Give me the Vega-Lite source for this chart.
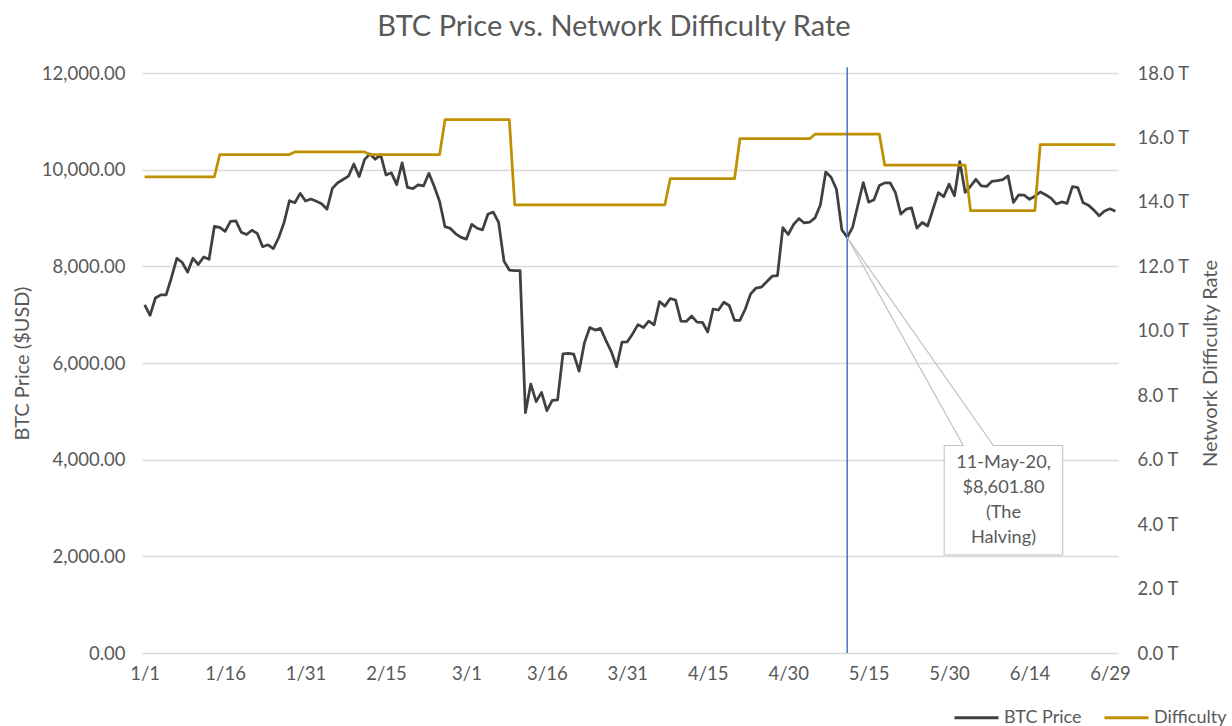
{
  "$schema": "https://vega.github.io/schema/vega-lite/v6.json",
  "width": 976,
  "height": 580,
  "autosize": {"type": "none"},
  "padding": {"left": 142, "top": 73, "right": 114, "bottom": 73},
  "background": "white",
  "config": {"view": {"stroke": null}, "font": "Lato"},
  "title": {"text": "BTC Price vs. Network Difficulty Rate", "font": "Lato", "fontSize": 29, "fontWeight": "normal", "color": "#595959", "anchor": "middle", "dx": -16, "offset": 22},
  "data": {
    "format": {"parse": {"date": "utc:'%Y-%m-%d'"}},
    "values": [
      {"date": "2020-01-01", "price": 7200.17, "difficulty": 14.78},
      {"date": "2020-01-02", "price": 6985.47, "difficulty": 14.78},
      {"date": "2020-01-03", "price": 7344.88, "difficulty": 14.78},
      {"date": "2020-01-04", "price": 7410.66, "difficulty": 14.78},
      {"date": "2020-01-05", "price": 7411.32, "difficulty": 14.78},
      {"date": "2020-01-06", "price": 7769.22, "difficulty": 14.78},
      {"date": "2020-01-07", "price": 8163.69, "difficulty": 14.78},
      {"date": "2020-01-08", "price": 8079.86, "difficulty": 14.78},
      {"date": "2020-01-09", "price": 7879.07, "difficulty": 14.78},
      {"date": "2020-01-10", "price": 8166.55, "difficulty": 14.78},
      {"date": "2020-01-11", "price": 8037.54, "difficulty": 14.78},
      {"date": "2020-01-12", "price": 8192.49, "difficulty": 14.78},
      {"date": "2020-01-13", "price": 8144.19, "difficulty": 14.78},
      {"date": "2020-01-14", "price": 8827.76, "difficulty": 14.78},
      {"date": "2020-01-15", "price": 8807.01, "difficulty": 15.47},
      {"date": "2020-01-16", "price": 8723.79, "difficulty": 15.47},
      {"date": "2020-01-17", "price": 8929.04, "difficulty": 15.47},
      {"date": "2020-01-18", "price": 8942.81, "difficulty": 15.47},
      {"date": "2020-01-19", "price": 8706.25, "difficulty": 15.47},
      {"date": "2020-01-20", "price": 8657.64, "difficulty": 15.47},
      {"date": "2020-01-21", "price": 8745.89, "difficulty": 15.47},
      {"date": "2020-01-22", "price": 8680.88, "difficulty": 15.47},
      {"date": "2020-01-23", "price": 8406.52, "difficulty": 15.47},
      {"date": "2020-01-24", "price": 8445.43, "difficulty": 15.47},
      {"date": "2020-01-25", "price": 8367.85, "difficulty": 15.47},
      {"date": "2020-01-26", "price": 8596.83, "difficulty": 15.47},
      {"date": "2020-01-27", "price": 8909.82, "difficulty": 15.47},
      {"date": "2020-01-28", "price": 9358.59, "difficulty": 15.47},
      {"date": "2020-01-29", "price": 9316.63, "difficulty": 15.55},
      {"date": "2020-01-30", "price": 9508.99, "difficulty": 15.55},
      {"date": "2020-01-31", "price": 9350.53, "difficulty": 15.55},
      {"date": "2020-02-01", "price": 9392.88, "difficulty": 15.55},
      {"date": "2020-02-02", "price": 9344.37, "difficulty": 15.55},
      {"date": "2020-02-03", "price": 9293.52, "difficulty": 15.55},
      {"date": "2020-02-04", "price": 9180.96, "difficulty": 15.55},
      {"date": "2020-02-05", "price": 9613.42, "difficulty": 15.55},
      {"date": "2020-02-06", "price": 9729.80, "difficulty": 15.55},
      {"date": "2020-02-07", "price": 9795.94, "difficulty": 15.55},
      {"date": "2020-02-08", "price": 9865.12, "difficulty": 15.55},
      {"date": "2020-02-09", "price": 10116.67, "difficulty": 15.55},
      {"date": "2020-02-10", "price": 9856.61, "difficulty": 15.55},
      {"date": "2020-02-11", "price": 10208.24, "difficulty": 15.55},
      {"date": "2020-02-12", "price": 10326.05, "difficulty": 15.47},
      {"date": "2020-02-13", "price": 10214.38, "difficulty": 15.47},
      {"date": "2020-02-14", "price": 10312.12, "difficulty": 15.47},
      {"date": "2020-02-15", "price": 9889.42, "difficulty": 15.47},
      {"date": "2020-02-16", "price": 9934.43, "difficulty": 15.47},
      {"date": "2020-02-17", "price": 9690.14, "difficulty": 15.47},
      {"date": "2020-02-18", "price": 10141.99, "difficulty": 15.47},
      {"date": "2020-02-19", "price": 9633.39, "difficulty": 15.47},
      {"date": "2020-02-20", "price": 9608.48, "difficulty": 15.47},
      {"date": "2020-02-21", "price": 9686.44, "difficulty": 15.47},
      {"date": "2020-02-22", "price": 9663.18, "difficulty": 15.47},
      {"date": "2020-02-23", "price": 9924.52, "difficulty": 15.47},
      {"date": "2020-02-24", "price": 9650.17, "difficulty": 15.47},
      {"date": "2020-02-25", "price": 9341.71, "difficulty": 15.47},
      {"date": "2020-02-26", "price": 8820.52, "difficulty": 16.55},
      {"date": "2020-02-27", "price": 8784.49, "difficulty": 16.55},
      {"date": "2020-02-28", "price": 8672.46, "difficulty": 16.55},
      {"date": "2020-02-29", "price": 8599.51, "difficulty": 16.55},
      {"date": "2020-03-01", "price": 8562.45, "difficulty": 16.55},
      {"date": "2020-03-02", "price": 8869.67, "difficulty": 16.55},
      {"date": "2020-03-03", "price": 8787.79, "difficulty": 16.55},
      {"date": "2020-03-04", "price": 8755.25, "difficulty": 16.55},
      {"date": "2020-03-05", "price": 9078.76, "difficulty": 16.55},
      {"date": "2020-03-06", "price": 9122.55, "difficulty": 16.55},
      {"date": "2020-03-07", "price": 8909.95, "difficulty": 16.55},
      {"date": "2020-03-08", "price": 8108.12, "difficulty": 16.55},
      {"date": "2020-03-09", "price": 7923.64, "difficulty": 16.55},
      {"date": "2020-03-10", "price": 7909.73, "difficulty": 13.91},
      {"date": "2020-03-11", "price": 7911.43, "difficulty": 13.91},
      {"date": "2020-03-12", "price": 4970.79, "difficulty": 13.91},
      {"date": "2020-03-13", "price": 5563.71, "difficulty": 13.91},
      {"date": "2020-03-14", "price": 5200.37, "difficulty": 13.91},
      {"date": "2020-03-15", "price": 5392.31, "difficulty": 13.91},
      {"date": "2020-03-16", "price": 5014.48, "difficulty": 13.91},
      {"date": "2020-03-17", "price": 5225.63, "difficulty": 13.91},
      {"date": "2020-03-18", "price": 5238.44, "difficulty": 13.91},
      {"date": "2020-03-19", "price": 6191.19, "difficulty": 13.91},
      {"date": "2020-03-20", "price": 6198.78, "difficulty": 13.91},
      {"date": "2020-03-21", "price": 6185.07, "difficulty": 13.91},
      {"date": "2020-03-22", "price": 5830.25, "difficulty": 13.91},
      {"date": "2020-03-23", "price": 6416.31, "difficulty": 13.91},
      {"date": "2020-03-24", "price": 6734.80, "difficulty": 13.91},
      {"date": "2020-03-25", "price": 6681.06, "difficulty": 13.91},
      {"date": "2020-03-26", "price": 6716.44, "difficulty": 13.91},
      {"date": "2020-03-27", "price": 6469.80, "difficulty": 13.91},
      {"date": "2020-03-28", "price": 6242.19, "difficulty": 13.91},
      {"date": "2020-03-29", "price": 5922.04, "difficulty": 13.91},
      {"date": "2020-03-30", "price": 6429.84, "difficulty": 13.91},
      {"date": "2020-03-31", "price": 6438.64, "difficulty": 13.91},
      {"date": "2020-04-01", "price": 6606.78, "difficulty": 13.91},
      {"date": "2020-04-02", "price": 6793.62, "difficulty": 13.91},
      {"date": "2020-04-03", "price": 6733.39, "difficulty": 13.91},
      {"date": "2020-04-04", "price": 6867.53, "difficulty": 13.91},
      {"date": "2020-04-05", "price": 6791.13, "difficulty": 13.91},
      {"date": "2020-04-06", "price": 7271.78, "difficulty": 13.91},
      {"date": "2020-04-07", "price": 7176.41, "difficulty": 13.91},
      {"date": "2020-04-08", "price": 7334.10, "difficulty": 14.72},
      {"date": "2020-04-09", "price": 7302.09, "difficulty": 14.72},
      {"date": "2020-04-10", "price": 6865.49, "difficulty": 14.72},
      {"date": "2020-04-11", "price": 6859.08, "difficulty": 14.72},
      {"date": "2020-04-12", "price": 6971.09, "difficulty": 14.72},
      {"date": "2020-04-13", "price": 6845.04, "difficulty": 14.72},
      {"date": "2020-04-14", "price": 6842.43, "difficulty": 14.72},
      {"date": "2020-04-15", "price": 6642.11, "difficulty": 14.72},
      {"date": "2020-04-16", "price": 7116.80, "difficulty": 14.72},
      {"date": "2020-04-17", "price": 7096.18, "difficulty": 14.72},
      {"date": "2020-04-18", "price": 7257.66, "difficulty": 14.72},
      {"date": "2020-04-19", "price": 7189.42, "difficulty": 14.72},
      {"date": "2020-04-20", "price": 6881.96, "difficulty": 14.72},
      {"date": "2020-04-21", "price": 6880.32, "difficulty": 15.96},
      {"date": "2020-04-22", "price": 7117.21, "difficulty": 15.96},
      {"date": "2020-04-23", "price": 7429.72, "difficulty": 15.96},
      {"date": "2020-04-24", "price": 7550.90, "difficulty": 15.96},
      {"date": "2020-04-25", "price": 7569.94, "difficulty": 15.96},
      {"date": "2020-04-26", "price": 7679.87, "difficulty": 15.96},
      {"date": "2020-04-27", "price": 7795.60, "difficulty": 15.96},
      {"date": "2020-04-28", "price": 7807.06, "difficulty": 15.96},
      {"date": "2020-04-29", "price": 8801.04, "difficulty": 15.96},
      {"date": "2020-04-30", "price": 8658.55, "difficulty": 15.96},
      {"date": "2020-05-01", "price": 8864.77, "difficulty": 15.96},
      {"date": "2020-05-02", "price": 8988.60, "difficulty": 15.96},
      {"date": "2020-05-03", "price": 8897.47, "difficulty": 15.96},
      {"date": "2020-05-04", "price": 8912.65, "difficulty": 15.96},
      {"date": "2020-05-05", "price": 9003.07, "difficulty": 16.10},
      {"date": "2020-05-06", "price": 9268.76, "difficulty": 16.10},
      {"date": "2020-05-07", "price": 9951.52, "difficulty": 16.10},
      {"date": "2020-05-08", "price": 9842.67, "difficulty": 16.10},
      {"date": "2020-05-09", "price": 9593.90, "difficulty": 16.10},
      {"date": "2020-05-10", "price": 8756.43, "difficulty": 16.10},
      {"date": "2020-05-11", "price": 8601.80, "difficulty": 16.10},
      {"date": "2020-05-12", "price": 8804.48, "difficulty": 16.10},
      {"date": "2020-05-13", "price": 9269.99, "difficulty": 16.10},
      {"date": "2020-05-14", "price": 9733.72, "difficulty": 16.10},
      {"date": "2020-05-15", "price": 9328.20, "difficulty": 16.10},
      {"date": "2020-05-16", "price": 9377.01, "difficulty": 16.10},
      {"date": "2020-05-17", "price": 9670.74, "difficulty": 16.10},
      {"date": "2020-05-18", "price": 9726.58, "difficulty": 15.14},
      {"date": "2020-05-19", "price": 9729.04, "difficulty": 15.14},
      {"date": "2020-05-20", "price": 9522.98, "difficulty": 15.14},
      {"date": "2020-05-21", "price": 9081.76, "difficulty": 15.14},
      {"date": "2020-05-22", "price": 9182.58, "difficulty": 15.14},
      {"date": "2020-05-23", "price": 9209.29, "difficulty": 15.14},
      {"date": "2020-05-24", "price": 8790.37, "difficulty": 15.14},
      {"date": "2020-05-25", "price": 8906.93, "difficulty": 15.14},
      {"date": "2020-05-26", "price": 8835.05, "difficulty": 15.14},
      {"date": "2020-05-27", "price": 9181.02, "difficulty": 15.14},
      {"date": "2020-05-28", "price": 9525.75, "difficulty": 15.14},
      {"date": "2020-05-29", "price": 9439.12, "difficulty": 15.14},
      {"date": "2020-05-30", "price": 9700.41, "difficulty": 15.14},
      {"date": "2020-05-31", "price": 9461.06, "difficulty": 15.14},
      {"date": "2020-06-01", "price": 10167.27, "difficulty": 15.14},
      {"date": "2020-06-02", "price": 9529.80, "difficulty": 15.14},
      {"date": "2020-06-03", "price": 9656.72, "difficulty": 13.73},
      {"date": "2020-06-04", "price": 9800.64, "difficulty": 13.73},
      {"date": "2020-06-05", "price": 9665.53, "difficulty": 13.73},
      {"date": "2020-06-06", "price": 9653.68, "difficulty": 13.73},
      {"date": "2020-06-07", "price": 9758.85, "difficulty": 13.73},
      {"date": "2020-06-08", "price": 9771.49, "difficulty": 13.73},
      {"date": "2020-06-09", "price": 9795.70, "difficulty": 13.73},
      {"date": "2020-06-10", "price": 9870.09, "difficulty": 13.73},
      {"date": "2020-06-11", "price": 9321.78, "difficulty": 13.73},
      {"date": "2020-06-12", "price": 9480.84, "difficulty": 13.73},
      {"date": "2020-06-13", "price": 9475.28, "difficulty": 13.73},
      {"date": "2020-06-14", "price": 9386.79, "difficulty": 13.73},
      {"date": "2020-06-15", "price": 9450.70, "difficulty": 13.73},
      {"date": "2020-06-16", "price": 9538.02, "difficulty": 15.78},
      {"date": "2020-06-17", "price": 9480.25, "difficulty": 15.78},
      {"date": "2020-06-18", "price": 9411.84, "difficulty": 15.78},
      {"date": "2020-06-19", "price": 9288.02, "difficulty": 15.78},
      {"date": "2020-06-20", "price": 9332.34, "difficulty": 15.78},
      {"date": "2020-06-21", "price": 9303.63, "difficulty": 15.78},
      {"date": "2020-06-22", "price": 9648.72, "difficulty": 15.78},
      {"date": "2020-06-23", "price": 9629.66, "difficulty": 15.78},
      {"date": "2020-06-24", "price": 9313.61, "difficulty": 15.78},
      {"date": "2020-06-25", "price": 9264.81, "difficulty": 15.78},
      {"date": "2020-06-26", "price": 9162.92, "difficulty": 15.78},
      {"date": "2020-06-27", "price": 9045.39, "difficulty": 15.78},
      {"date": "2020-06-28", "price": 9143.58, "difficulty": 15.78},
      {"date": "2020-06-29", "price": 9190.85, "difficulty": 15.78},
      {"date": "2020-06-30", "price": 9137.99, "difficulty": 15.78}
    ]
  },
  "layer": [
    {
      "mark": {"type": "line", "strokeWidth": 2.75, "strokeJoin": "round"},
      "encoding": {
        "x": {
          "field": "date", "type": "temporal",
          "scale": {"type": "utc", "domain": [{"year": 2019, "month": 12, "date": 31, "hours": 12, "utc": true}, {"year": 2020, "month": 6, "date": 30, "hours": 12, "utc": true}]},
          "axis": {
            "title": null,
            "values": [
              {"year": 2020, "month": 1, "date": 1, "utc": true},
              {"year": 2020, "month": 1, "date": 16, "utc": true},
              {"year": 2020, "month": 1, "date": 31, "utc": true},
              {"year": 2020, "month": 2, "date": 15, "utc": true},
              {"year": 2020, "month": 3, "date": 1, "utc": true},
              {"year": 2020, "month": 3, "date": 16, "utc": true},
              {"year": 2020, "month": 3, "date": 31, "utc": true},
              {"year": 2020, "month": 4, "date": 15, "utc": true},
              {"year": 2020, "month": 4, "date": 30, "utc": true},
              {"year": 2020, "month": 5, "date": 15, "utc": true},
              {"year": 2020, "month": 5, "date": 30, "utc": true},
              {"year": 2020, "month": 6, "date": 14, "utc": true},
              {"year": 2020, "month": 6, "date": 29, "utc": true}
            ],
            "labelExpr": "utcFormat(datum.value, '%-m/%-d')",
            "grid": false, "ticks": false, "domain": false,
            "labelPadding": 11, "labelFont": "Lato", "labelFontSize": 18.5, "labelColor": "#595959",
            "labelFlush": false, "labelOverlap": false
          }
        },
        "y": {
          "field": "price", "type": "quantitative",
          "scale": {"domain": [0, 12000], "nice": false},
          "axis": {
            "title": "BTC Price ($USD)",
            "values": [0, 2000, 4000, 6000, 8000, 10000, 12000],
            "format": ",.2f",
            "grid": true, "gridColor": "#D9D9D9", "gridWidth": 1.3,
            "ticks": false, "domain": false,
            "labelPadding": 17, "labelFont": "Lato", "labelFontSize": 18.5, "labelColor": "#595959",
            "titleFont": "Lato", "titleFontSize": 20, "titleFontWeight": "normal", "titleColor": "#595959",
            "titleX": -119.5, "titleY": 290, "titleAngle": -90, "titleAlign": "center", "titleBaseline": "middle"
          }
        },
        "color": {
          "datum": "BTC Price", "type": "nominal",
          "scale": {"domain": ["BTC Price", "Difficulty"], "range": ["#404040", "#BF9000"]},
          "legend": {
            "title": null, "orient": "none", "legendX": 811, "legendY": 621, "direction": "horizontal",
            "symbolType": "stroke", "symbolSize": 1936, "symbolStrokeWidth": 3,
            "labelFont": "Lato", "labelFontSize": 18, "labelColor": "#595959", "labelOffset": 4, "columnPadding": 16
          }
        }
      }
    },
    {
      "mark": {"type": "line", "strokeWidth": 2.75, "strokeJoin": "round"},
      "encoding": {
        "x": {"field": "date", "type": "temporal"},
        "y": {
          "field": "difficulty", "type": "quantitative",
          "scale": {"domain": [0, 18], "nice": false},
          "axis": {
            "orient": "right",
            "title": "Network Difficulty Rate",
            "values": [0, 2, 4, 6, 8, 10, 12, 14, 16, 18],
            "labelExpr": "format(datum.value, '.1f') + ' T'",
            "grid": false, "ticks": false, "domain": false,
            "labelPadding": 19, "labelFont": "Lato", "labelFontSize": 18.5, "labelColor": "#595959",
            "titleFont": "Lato", "titleFontSize": 20, "titleFontWeight": "normal", "titleColor": "#595959",
            "titleX": 92, "titleY": 290, "titleAngle": -90, "titleAlign": "center", "titleBaseline": "middle"
          }
        },
        "color": {"datum": "Difficulty", "type": "nominal"}
      }
    },
    {
      "data": {"values": [{}]},
      "mark": {"type": "rule", "color": "#4472C4", "strokeWidth": 1.5},
      "encoding": {
        "x": {"datum": {"year": 2020, "month": 5, "date": 11, "utc": true}, "type": "temporal"},
        "y": {"datum": 0, "type": "quantitative", "scale": {"domain": [0, 12000], "nice": false}, "axis": null},
        "y2": {"datum": 12120}
      }
    },
    {
      "data": {"values": [{}]},
      "mark": {"type": "rect", "fill": "white", "stroke": "#BFBFBF", "strokeWidth": 1},
      "encoding": {
        "x": {"datum": {"year": 2020, "month": 5, "date": 29, "hours": 2, "utc": true}, "type": "temporal"},
        "x2": {"datum": {"year": 2020, "month": 6, "date": 20, "hours": 4, "minutes": 30, "utc": true}},
        "y": {"datum": 4293, "type": "quantitative", "scale": {"domain": [0, 12000], "nice": false}, "axis": null},
        "y2": {"datum": 2028}
      }
    },
    {
      "data": {"values": [{}]},
      "mark": {"type": "rule", "color": "white", "strokeWidth": 2.5},
      "encoding": {
        "x": {"datum": {"year": 2020, "month": 6, "date": 1, "hours": 15, "minutes": 36, "utc": true}, "type": "temporal"},
        "x2": {"datum": {"year": 2020, "month": 6, "date": 7, "hours": 6, "utc": true}},
        "y": {"datum": 4293, "type": "quantitative", "scale": {"domain": [0, 12000], "nice": false}, "axis": null}
      }
    },
    {
      "data": {"values": [{}]},
      "mark": {"type": "rule", "color": "#BFBFBF", "strokeWidth": 1.2},
      "encoding": {
        "x": {"datum": {"year": 2020, "month": 5, "date": 11, "utc": true}, "type": "temporal"},
        "x2": {"datum": {"year": 2020, "month": 6, "date": 1, "hours": 15, "minutes": 36, "utc": true}},
        "y": {"datum": 8601.8, "type": "quantitative", "scale": {"domain": [0, 12000], "nice": false}, "axis": null},
        "y2": {"datum": 4293}
      }
    },
    {
      "data": {"values": [{}]},
      "mark": {"type": "rule", "color": "#BFBFBF", "strokeWidth": 1.2},
      "encoding": {
        "x": {"datum": {"year": 2020, "month": 5, "date": 11, "utc": true}, "type": "temporal"},
        "x2": {"datum": {"year": 2020, "month": 6, "date": 7, "hours": 6, "utc": true}},
        "y": {"datum": 8601.8, "type": "quantitative", "scale": {"domain": [0, 12000], "nice": false}, "axis": null},
        "y2": {"datum": 4293}
      }
    },
    {
      "data": {"values": [{}]},
      "mark": {"type": "text", "align": "center", "baseline": "middle", "font": "Lato", "fontSize": 18.2, "color": "#595959", "lineHeight": 25},
      "encoding": {
        "x": {"datum": {"year": 2020, "month": 6, "date": 9, "hours": 3, "minutes": 36, "utc": true}, "type": "temporal"},
        "y": {"datum": 3931, "type": "quantitative", "scale": {"domain": [0, 12000], "nice": false}, "axis": null},
        "text": {"value": ["11-May-20,", "$8,601.80", "(The", "Halving)"]}
      }
    }
  ],
  "resolve": {"scale": {"y": "independent"}}
}
